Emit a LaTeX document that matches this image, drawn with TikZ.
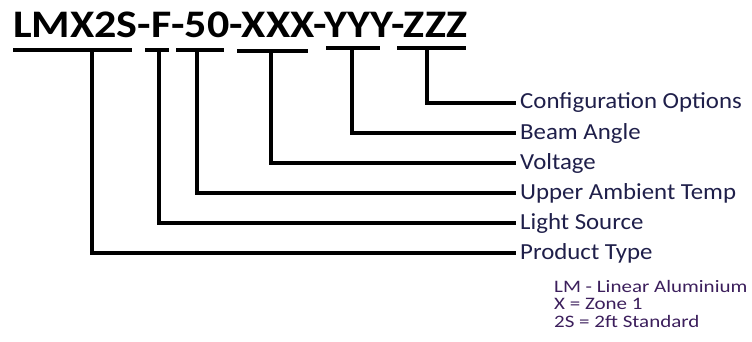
\documentclass[tikz,border=0pt]{standalone}
\usepackage{fontspec}
\setmainfont{Carlito}[FakeStretch=1.08]
\newfontfamily\codefont{Carlito}[FakeStretch=1.13]
\newfontfamily\notefont{Carlito}[FakeStretch=1.2]
\definecolor{labelblue}{HTML}{1F1F4A}
\definecolor{notepurple}{HTML}{3C1F5C}
\begin{document}
\begin{tikzpicture}[x=1pt,y=-1pt]
    \tikzset{
        bar/.style={line width=4pt},
        partlabel/.style={anchor=west, inner sep=0pt, text=labelblue, font=\fontsize{23}{23}\selectfont},
    }
    \useasboundingbox (0,0) rectangle (752,342);

    \node[anchor=base west, inner sep=0pt, font=\codefont\fontsize{39}{39}\selectfont\bfseries] (code) at (13,38) {LMX2S-F-50-XXX-YYY-ZZZ};

    \foreach \n/\y/\t in {1/103/Configuration Options, 2/133/Beam Angle, 3/163/Voltage,
                          4/193/Upper Ambient Temp, 5/223/Light Source, 6/253/Product Type}
        \node[partlabel] (lab\n) at (520,\y) {\t};

    % underline of each part and its leader to the label
    \foreach \n/\a/\b/\m/\h in {1/397/466/427/48, 2/326/380/352/48, 3/237/308/271/51,
                                4/176/224/197/50, 5/145/169/159/50, 6/13/132/92/50}
    {
        \draw[bar] (\a,\h) -- (\b,\h);
        \coordinate (top\n) at (\m,\h);
        \draw[bar, shorten >=4pt] (top\n) |- (lab\n.west);
    }

    \node[anchor=north west, inner sep=0pt, align=left, text=notepurple,
          font=\notefont\fontsize{17.5}{17.5}\selectfont] (note) at (554,280)
        {LM - Linear Aluminium\\X = Zone 1\\2S = 2ft Standard};
\end{tikzpicture}
\end{document}
